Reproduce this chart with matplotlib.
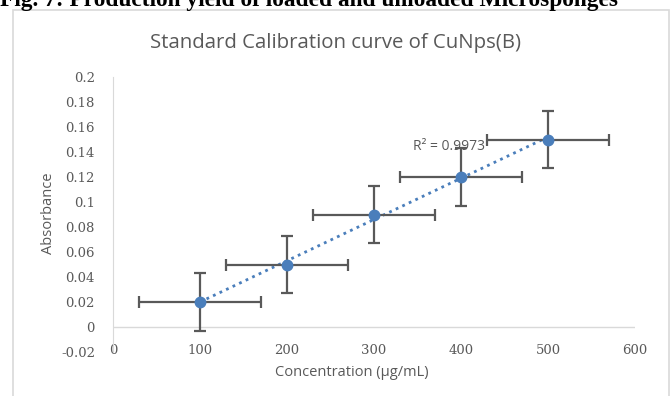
import matplotlib.pyplot as plt
import numpy as np
from matplotlib.patches import Rectangle

# data
conc = [100, 200, 300, 400, 500]
absorb = [0.02, 0.05, 0.09, 0.12, 0.15]
x_err = [70, 70, 70, 70, 70]
y_err = [0.023, 0.023, 0.023, 0.023, 0.023]
x_ticks = [0, 100, 200, 300, 400, 500, 600]
y_ticks = [-0.02, 0, 0.02, 0.04, 0.06, 0.08, 0.1, 0.12, 0.14, 0.16, 0.18, 0.2]
r2_text = 'R² = 0.9973'

grey = '#595959'
blue = '#4a7ebb'

fig = plt.figure(figsize=(6.72, 3.96), dpi=100)

# cropped caption from the page above the chart
fig.text(0.0, 1 - 6 / 396, 'Fig. 7: Production yield of loaded and unloaded Microsponges',
         fontsize=16.8, fontweight='bold', family='Liberation Serif', va='baseline', ha='left')

# chart frame
fig.patches.append(Rectangle((12.5 / 672, -0.01), (669 - 12.5) / 672, 1 - 9.5 / 396 + 0.01,
                             transform=fig.transFigure, fill=False, edgecolor='#d9d9d9', linewidth=1.2))

ax = fig.add_axes([113 / 672, 1 - 352 / 396, (635 - 113) / 672, (352 - 77) / 396])
ax.set_xlim(0, 600)
ax.set_ylim(-0.02, 0.2)

# trendline
fit = np.polyfit(conc, absorb, 1)
xs = np.array([conc[0], conc[-1]])
ax.plot(xs, np.polyval(fit, xs), linestyle=(0, (1, 1.6)), color=blue, linewidth=2, zorder=2)

ax.errorbar(conc, absorb, xerr=x_err, yerr=y_err, fmt='o', color=blue, markersize=7.5,
            ecolor=grey, elinewidth=1.6, capsize=4, capthick=1.6, zorder=3)

ax.axhline(0, color='#d9d9d9', linewidth=1, zorder=1)
for s in ['top', 'right', 'bottom']:
    ax.spines[s].set_visible(False)
ax.spines['left'].set_color('#d9d9d9')

ax.set_xticks(x_ticks)
ax.set_xticklabels([str(t) for t in x_ticks])
ax.set_yticks(y_ticks)
ax.set_yticklabels(['-0.02', '0', '0.02', '0.04', '0.06', '0.08', '0.1', '0.12', '0.14', '0.16', '0.18', '0.2'])
ax.tick_params(axis='both', length=0, colors=grey, labelsize=10)
ax.tick_params(axis='x', pad=-6)
ax.tick_params(axis='y', pad=13)
for lab in ax.get_xticklabels() + ax.get_yticklabels():
    lab.set_family('DejaVu Serif')
    lab.set_fontsize(9.5)

ax.text(345, 0.144, r2_text, color=grey, fontsize=10, family='Open Sans', va='center', ha='left')

fig.text(335 / 672, 1 - 43 / 396, 'Standard Calibration curve of CuNps(B)', ha='center', va='center',
         fontsize=14.7, color=grey, family='Open Sans')
fig.text(48 / 672, 1 - 213 / 396, 'Absorbance', rotation=90, ha='center', va='center',
         fontsize=10.5, color=grey, family='Open Sans')
fig.text(352 / 672, 1 - 372 / 396, 'Concentration (µg/mL)', ha='center', va='center',
         fontsize=10.5, color=grey, family='Open Sans')

fig.savefig('out.png', dpi=100)
